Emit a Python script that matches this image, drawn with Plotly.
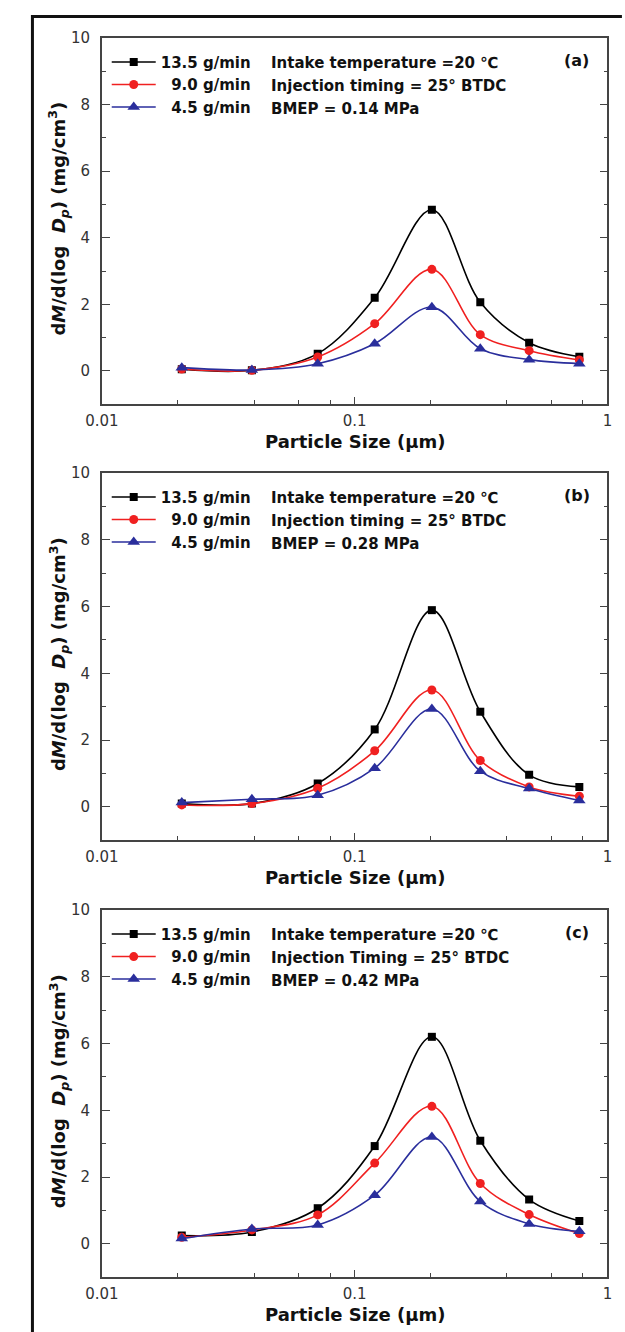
import plotly.graph_objects as go

# ---- data -------------------------------------------------------------
particle_size = [0.0207, 0.0392, 0.0714, 0.12, 0.202, 0.314, 0.49, 0.774]

series_names = ["13.5 g/min", "\u20079.0 g/min", "\u20074.5 g/min"]

# panel (a)  BMEP = 0.14 MPa
a_135 = [0.05, 0.02, 0.52, 2.20, 4.84, 2.06, 0.85, 0.43]
a_90 = [0.06, 0.02, 0.42, 1.42, 3.05, 1.09, 0.61, 0.33]
a_45 = [0.10, 0.03, 0.22, 0.82, 1.91, 0.67, 0.34, 0.22]

# panel (b)  BMEP = 0.28 MPa
b_135 = [0.10, 0.10, 0.70, 2.32, 5.89, 2.85, 0.96, 0.60]
b_90 = [0.06, 0.10, 0.56, 1.68, 3.50, 1.39, 0.60, 0.32]
b_45 = [0.13, 0.23, 0.35, 1.16, 2.93, 1.07, 0.55, 0.19]

# panel (c)  BMEP = 0.42 MPa
c_135 = [0.25, 0.36, 1.07, 2.93, 6.20, 3.09, 1.33, 0.69]
c_90 = [0.20, 0.42, 0.87, 2.42, 4.12, 1.81, 0.88, 0.31]
c_45 = [0.16, 0.45, 0.57, 1.46, 3.20, 1.27, 0.60, 0.38]

panel_labels = ["(a)", "(b)", "(c)"]
info_lines = [
    ["Intake temperature =20 \u2103", "Injection timing = 25\u00b0 BTDC", "BMEP = 0.14 MPa"],
    ["Intake temperature =20 \u2103", "Injection timing = 25\u00b0 BTDC", "BMEP = 0.28 MPa"],
    ["Intake temperature =20 \u2103", "Injection Timing = 25\u00b0 BTDC", "BMEP = 0.42 MPa"],
]
y_tick_vals = [0, 2, 4, 6, 8, 10]
x_tick_vals = [0.01, 0.1, 1]
x_tick_text = ["0.01", "0.1", "1"]
x_minor_vals = [0.02, 0.04, 0.06, 0.08, 0.2, 0.4, 0.6, 0.8]

# ---- styling / layout ------------------------------------------------
W, H = 625, 1332
colors = ["#000000", "#f02020", "#2a2e9c"]
symbols = ["square", "circle", "triangle-up"]
msizes = [8, 9, 11]

# panel pixel boxes (top, bottom)
boxes = [(29, 398), (467, 837), (907, 1277)]
xl, xr = 88, 612

def py(p):
    return 1 - p / H

def px(p):
    return p / W

panels = [
    [a_135, a_90, a_45],
    [b_135, b_90, b_45],
    [c_135, c_90, c_45],
]

fig = go.Figure()
TICKFONT = dict(family="DejaVu Sans", size=15, color="#333333")
BOLD = "DejaVu Sans"
annotations = []
layout = {}

for i, (series, (top, bot)) in enumerate(zip(panels, boxes)):
    n = "" if i == 0 else str(i + 1)
    xa, ya = "x" + n, "y" + n
    leg = "legend" + n
    for j, vals in enumerate(series):
        fig.add_trace(go.Scatter(
            x=particle_size, y=vals, xaxis=xa, yaxis=ya,
            mode="lines+markers", name=series_names[j],
            line=dict(color=colors[j], width=1.6, shape="spline", smoothing=1),
            marker=dict(symbol=symbols[j], size=msizes[j], color=colors[j]),
            legend=leg,
        ))
    layout["xaxis" + n] = dict(
        type="log", range=[-2, 0], domain=[px(xl), px(xr)], anchor=ya,
        tickvals=x_tick_vals, ticktext=x_tick_text, ticks="inside", ticklen=8,
        tickwidth=1.3, tickcolor="#444", showline=True, linecolor="#444",
        linewidth=1.5, mirror=True, showgrid=False, zeroline=False,
        tickfont=TICKFONT, ticklabelstandoff=2,
        minor=dict(tickvals=x_minor_vals, ticks="inside", ticklen=5,
                   tickwidth=1.2, tickcolor="#444", showgrid=False),
    )
    layout["yaxis" + n] = dict(
        range=[-1, 10], domain=[py(bot), py(top)], anchor=xa,
        tickvals=y_tick_vals, ticks="inside", ticklen=8, tickwidth=1.3,
        tickcolor="#444", showline=True, linecolor="#444", linewidth=1.5,
        mirror="ticks", showgrid=False, zeroline=False, tickfont=TICKFONT,
        ticklabelstandoff=7,
        minor=dict(dtick=1, ticks="inside", ticklen=4, tickwidth=1.2,
                   tickcolor="#444", showgrid=False),
    )
    layout[leg] = dict(
        x=px(93), y=py(top + 8), xanchor="left", yanchor="top",
        bgcolor="rgba(0,0,0,0)", font=dict(family=BOLD, size=15, color="#111",
                                            weight="bold"),
        itemwidth=44, tracegroupgap=0,
    )
    # info text
    for k, t in enumerate(info_lines[i]):
        annotations.append(dict(
            xref="paper", yref="paper", x=px(261), y=py(top + 25 + k * 23.5),
            xanchor="left", yanchor="middle", showarrow=False, text="<b>" + t + "</b>",
            font=dict(family=BOLD, size=15, color="#111"),
        ))
    annotations.append(dict(
        xref="paper", yref="paper", x=px(580), y=py(top + 23),
        xanchor="center", yanchor="middle", showarrow=False,
        text="<b>" + panel_labels[i] + "</b>",
        font=dict(family=BOLD, size=16, color="#111"),
    ))
    # axis titles
    annotations.append(dict(
        xref="paper", yref="paper", x=px((xl + xr) / 2), y=py(bot + 37),
        xanchor="center", yanchor="middle", showarrow=False,
        text="<b>Particle Size (\u03bcm)</b>",
        font=dict(family=BOLD, size=18, color="#111"),
    ))
    annotations.append(dict(
        xref="paper", yref="paper", x=px(43), y=py((top + bot) / 2 - 3),
        xanchor="center", yanchor="middle", showarrow=False, textangle=-90,
        text="<b>d<i>M</i>/d(log  <i>D<sub>p</sub></i>) (mg/cm<sup>3</sup>)</b>",
        font=dict(family=BOLD, size=18, color="#111"),
    ))

shapes = [
    dict(type="line", xref="paper", yref="paper", x0=px(14.5), x1=px(W + 2),
         y0=py(7.5), y1=py(7.5), line=dict(color="#111", width=3)),
    dict(type="line", xref="paper", yref="paper", x0=px(16), x1=px(16),
         y0=py(6), y1=py(H + 5), line=dict(color="#111", width=3)),
]

fig.update_layout(
    width=W, height=H, margin=dict(l=0, r=0, t=0, b=0),
    paper_bgcolor="white", plot_bgcolor="white",
    annotations=annotations, shapes=shapes, showlegend=True,
    **layout,
)

fig.write_html("out.html")
